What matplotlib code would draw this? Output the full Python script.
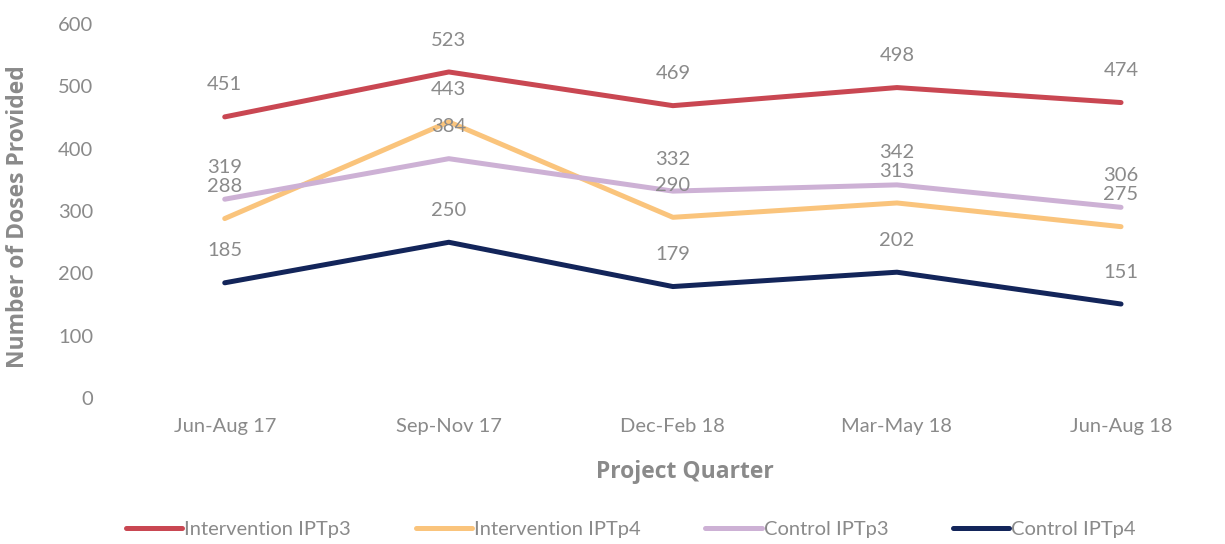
import matplotlib.pyplot as plt

quarters = ["Jun-Aug 17", "Sep-Nov 17", "Dec-Feb 18", "Mar-May 18", "Jun-Aug 18"]
int_iptp3 = [451, 523, 469, 498, 474]
int_iptp4 = [288, 443, 290, 313, 275]
ctl_iptp3 = [319, 384, 332, 342, 306]
ctl_iptp4 = [185, 250, 179, 202, 151]

series = [
    ("Intervention IPTp3", int_iptp3, "#C94752"),
    ("Intervention IPTp4", int_iptp4, "#FAC47C"),
    ("Control IPTp3", ctl_iptp3, "#CDB1D5"),
    ("Control IPTp4", ctl_iptp4, "#13255A"),
]

gray = "#8a8a8a"
plt.rcParams["font.family"] = ["Lato", "DejaVu Sans"]

fig = plt.figure(figsize=(12.25, 5.44), dpi=100)
ax = fig.add_axes([0.092, 0.268, 0.908, 0.688])

x = list(range(len(quarters)))
for name, vals, color in series:
    ax.plot(x, vals, color=color, lw=3.6, label=name, solid_capstyle="round")
    for xi, v in zip(x, vals):
        ax.annotate(str(v), (xi, v), xytext=(0, 23), textcoords="offset points",
                    ha="center", va="center", fontsize=14.5, color=gray)

ax.set_xlim(-0.5, 4.464)
ax.set_ylim(0, 600)
ax.set_yticks(range(0, 601, 100))
ax.set_xticks(x)
ax.set_xticklabels(quarters)
for s in ax.spines.values():
    s.set_visible(False)
ax.tick_params(length=0, labelsize=14.5, colors=gray)
ax.tick_params(axis="x", pad=14)
ax.tick_params(axis="y", pad=14)

# axis titles
fig.text(18 / 1225, 1 - 217 / 544, "Number of Doses Provided", rotation=90,
         ha="center", va="center", fontsize=16.5, fontweight="bold", color=gray,
         family=["Open Sans", "DejaVu Sans"])
fig.text(685 / 1225, 1 - 472 / 544, "Project Quarter",
         ha="center", va="center", fontsize=16.5, fontweight="bold", color=gray,
         family=["Open Sans", "DejaVu Sans"])

leg = fig.legend(loc="center", bbox_to_anchor=(0.515, 0.026), ncol=4, frameon=False,
                 fontsize=14.5, handlelength=2.8, handletextpad=0.1, columnspacing=3.2)
for t in leg.get_texts():
    t.set_color(gray)

fig.savefig("out.png", dpi=100)
